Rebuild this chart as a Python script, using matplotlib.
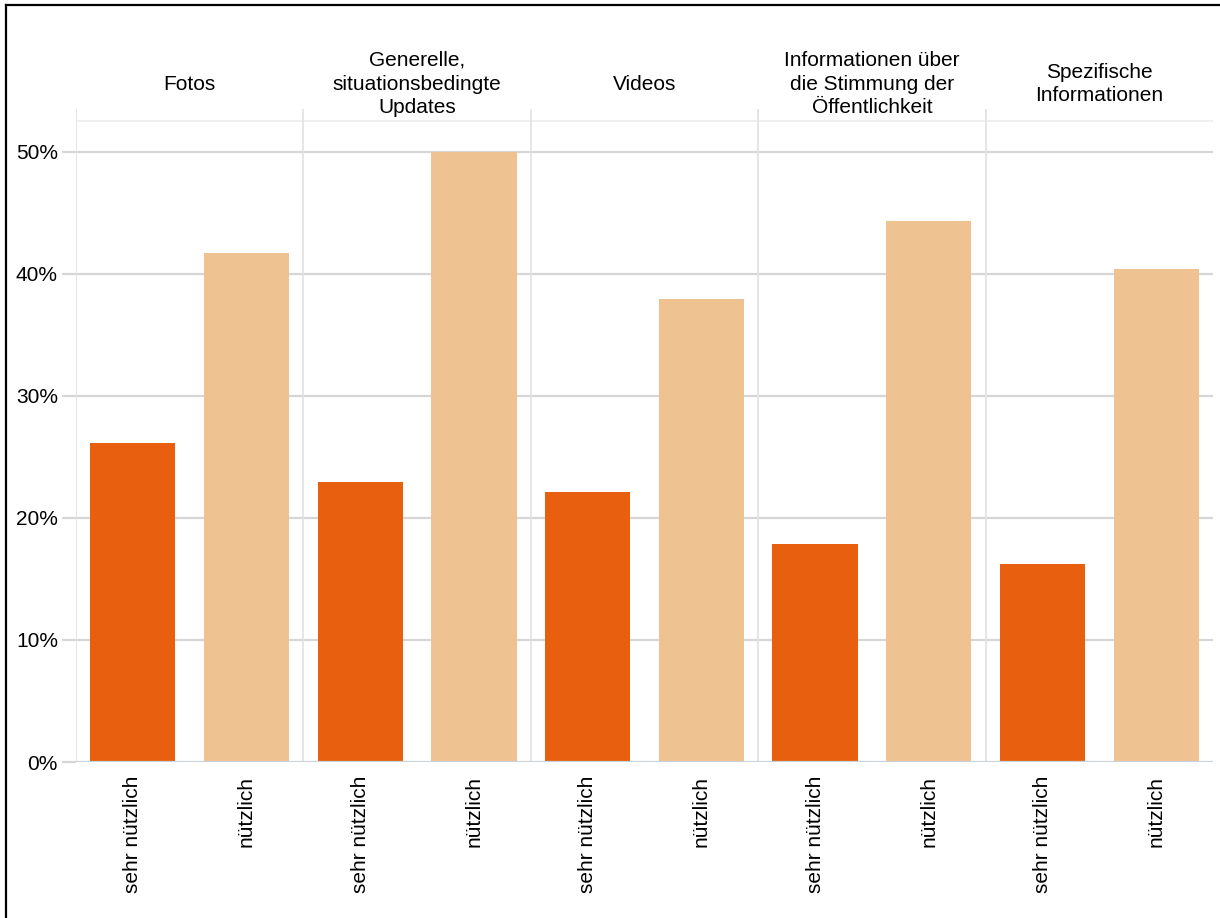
import numpy as np
import matplotlib.pyplot as plt
from matplotlib.lines import Line2D
from matplotlib.transforms import blended_transform_factory

# Werte (in %)
kategorien = ["Fotos",
              "Generelle,\nsituationsbedingte\nUpdates",
              "Videos",
              "Informationen über\ndie Stimmung der\nÖffentlichkeit",
              "Spezifische\nInformationen"]
sehr_nuetzlich = [26.1, 22.9, 22.1, 17.9, 16.2]
nuetzlich = [41.7, 50.0, 37.9, 44.3, 40.4]
balken_labels = ["sehr nützlich", "nützlich"]
yticks = [0, 10, 20, 30, 40, 50]

farbe_sehr = "#E8600F"
farbe_nuetz = "#EFC292"
grid_col = "#d6d6d6"

plt.rcParams['font.family'] = ['Liberation Sans', 'DejaVu Sans']

W, H = 1220, 918
fig = plt.figure(figsize=(W / 100, H / 100), dpi=100)
ax = fig.add_axes([76 / W, 1 - 762 / H, (1213 - 76) / W, (762 - 109) / H])

n = len(kategorien)
pos_sehr = np.arange(n) * 2 + 0.5
pos_nuetz = np.arange(n) * 2 + 1.5

ax.bar(pos_sehr, sehr_nuetzlich, width=0.75, color=farbe_sehr, zorder=3)
ax.bar(pos_nuetz, nuetzlich, width=0.75, color=farbe_nuetz, zorder=3)

ax.set_xlim(0, 2 * n)
ax.set_ylim(0, 53.5)

# Gitter
for y in yticks[1:]:
    ax.axhline(y, color=grid_col, lw=1.6, zorder=1)
ax.axhline(52.5, color="#efefef", lw=1.4, zorder=1)
for x in range(0, 2 * n, 2):
    ax.axvline(x, color="#e2e2e2", lw=1.2, zorder=1)

for s in ax.spines.values():
    s.set_visible(False)
ax.axhline(0, color="#c9d2da", lw=1.6, zorder=4)

ax.set_yticks(yticks)
ax.set_yticklabels([f"{v}%" for v in yticks], fontsize=15)
ax.tick_params(axis='y', length=10, width=1.6, color=grid_col, pad=3)

xpos = np.sort(np.concatenate([pos_sehr, pos_nuetz]))
ax.set_xticks(xpos)
ax.set_xticklabels(balken_labels * n, rotation=90, fontsize=15, va='top')
ax.tick_params(axis='x', length=0, pad=10)

# Gruppenüberschriften
trans = blended_transform_factory(ax.transData, fig.transFigure)
for i, k in enumerate(kategorien):
    ax.text(2 * i + 1, 1 - 84 / H, k, transform=trans, ha='center', va='center',
            fontsize=15, linespacing=1.3)

# Rahmen (links und oben)
fig.add_artist(Line2D([6 / W, 6 / W], [0, 1 - 4.5 / H], transform=fig.transFigure,
                      color='black', lw=1.6))
fig.add_artist(Line2D([6 / W, 1], [1 - 4.5 / H, 1 - 4.5 / H], transform=fig.transFigure,
                      color='black', lw=1.6))

fig.savefig("out.png", dpi=100)
